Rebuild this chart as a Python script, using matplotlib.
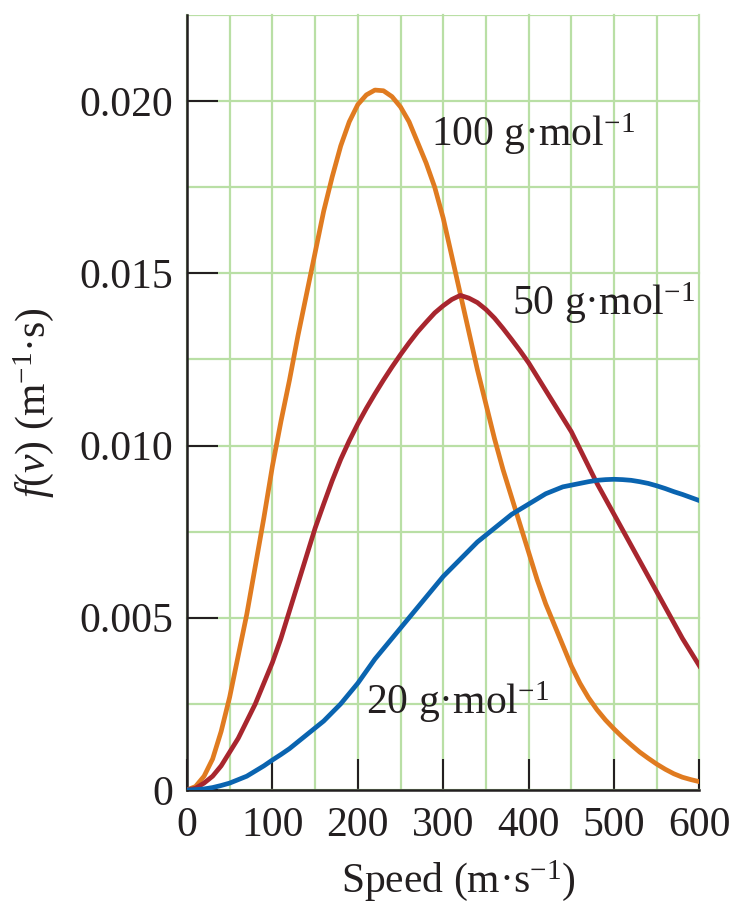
import matplotlib
matplotlib.use("Agg")
import matplotlib.pyplot as plt
from matplotlib.ticker import MultipleLocator

# speed (m/s), every 10 m/s from 0 to 600
speed = list(range(0, 601, 10))

# distribution values f(v) in m^-1 s for each molar mass
f_100 = [0, 0.0001, 0.0004, 0.0009, 0.0017, 0.0027, 0.0039, 0.0051, 0.0065,
         0.0079, 0.0094, 0.0107, 0.0119, 0.0132, 0.0144, 0.0156, 0.0168,
         0.0178, 0.0187, 0.0194, 0.0199, 0.02018, 0.02032, 0.0203, 0.02013,
         0.01983, 0.0194, 0.0188, 0.0182, 0.0175, 0.0166, 0.0155, 0.0144,
         0.0133, 0.0122, 0.0112, 0.0102, 0.0093, 0.0085, 0.0077, 0.0069,
         0.0061, 0.0054, 0.0048, 0.0042, 0.0036, 0.0031, 0.00268, 0.00233,
         0.00203, 0.00177, 0.00153, 0.00131, 0.0011, 0.00092, 0.00075,
         0.0006, 0.00047, 0.00037, 0.0003, 0.00024]
f_50 = [0, 0.00005, 0.0002, 0.0004, 0.0007, 0.0011, 0.0015, 0.0020, 0.0025,
        0.0031, 0.0037, 0.0044, 0.0052, 0.0060, 0.0068, 0.0076, 0.0083,
        0.00898, 0.0096, 0.01014, 0.01063, 0.01108, 0.0115, 0.0119, 0.01228,
        0.01264, 0.01298, 0.0133, 0.01358, 0.01385, 0.01406, 0.01424,
        0.01436, 0.01428, 0.01415, 0.01395, 0.0137, 0.0134, 0.01308, 0.01275,
        0.0124, 0.0120, 0.0116, 0.0112, 0.0108, 0.0104, 0.0099, 0.0094,
        0.0089, 0.00845, 0.0080, 0.00755, 0.0071, 0.00665, 0.0062, 0.00575,
        0.0053, 0.00485, 0.0044, 0.0040, 0.0036]
f_20 = [0, 0.00001, 0.00003, 0.00007, 0.00013, 0.0002, 0.0003, 0.0004,
        0.00055, 0.0007, 0.00087, 0.00103, 0.0012, 0.0014, 0.0016, 0.0018,
        0.0020, 0.00225, 0.0025, 0.0028, 0.0031, 0.00345, 0.0038, 0.0041,
        0.0044, 0.0047, 0.0050, 0.0053, 0.0056, 0.0059, 0.0062, 0.00645,
        0.0067, 0.00695, 0.0072, 0.0074, 0.0076, 0.0078, 0.0080, 0.00815,
        0.0083, 0.00845, 0.0086, 0.0087, 0.0088, 0.00885, 0.0089, 0.00895,
        0.00899, 0.00901, 0.00902, 0.00901, 0.00899, 0.00895, 0.0089,
        0.00883, 0.00875, 0.00866, 0.00858, 0.00849, 0.0084]

labels = ["100 g·mol$^{-1}$", "50 g·mol$^{-1}$", "20 g·mol$^{-1}$"]
label_pos = [(286, 0.0187), (380, 0.0138), (210, 0.0022)]

plt.rcParams['font.family'] = ['Liberation Serif', 'DejaVu Serif']
plt.rcParams['mathtext.fontset'] = 'custom'
plt.rcParams['mathtext.rm'] = 'Liberation Serif'
plt.rcParams['mathtext.it'] = 'Liberation Serif:italic'

ink = '#231f20'
fig = plt.figure(figsize=(7.35, 9.02), dpi=100)
ax = fig.add_axes([0.2544, 0.1242, 0.6973, 0.8592])

ax.plot(speed, f_100, color='#e07b20', lw=3.4, zorder=3)
ax.plot(speed, f_50, color='#a8262e', lw=3.4, zorder=3)
ax.plot(speed, f_20, color='#0a64b0', lw=3.4, zorder=3)

for text, (x, y) in zip(labels, label_pos):
    ax.text(x, y, text, fontsize=30, color=ink, ha='left', va='baseline',
            zorder=4)

ax.set_xlim(0, 600)
ax.set_ylim(0, 0.0225)
ax.xaxis.set_major_locator(MultipleLocator(100))
ax.xaxis.set_minor_locator(MultipleLocator(50))
ax.yaxis.set_minor_locator(MultipleLocator(0.0025))
ax.set_yticks([0, 0.005, 0.010, 0.015, 0.020])
ax.set_yticklabels(['0', '0.005', '0.010', '0.015', '0.020'])

ax.grid(which='both', color='#b9dfa5', lw=1.6, zorder=0)
ax.set_axisbelow(True)
for gl in ax.get_xgridlines() + ax.get_ygridlines():
    gl.set_clip_on(False)

for side in ('top', 'right'):
    ax.spines[side].set_visible(False)
for side in ('left', 'bottom'):
    ax.spines[side].set_color(ink)
    ax.spines[side].set_linewidth(1.8)

ax.tick_params(which='major', direction='in', length=22, width=1.5,
               color=ink, labelsize=30, labelcolor=ink)
ax.tick_params(axis='x', pad=12)
ax.tick_params(axis='y', pad=10)
ax.tick_params(which='minor', length=0)

ax.set_xlabel('Speed (m·s$^{-1}$)', fontsize=30, color=ink)
ax.xaxis.set_label_coords(0.53, -0.088)
ax.set_ylabel('$f$($v$) (m$^{-1}$·s)', fontsize=30, color=ink)
ax.yaxis.set_label_coords(-0.255, 0.5)

fig.savefig('out.png', dpi=100)
